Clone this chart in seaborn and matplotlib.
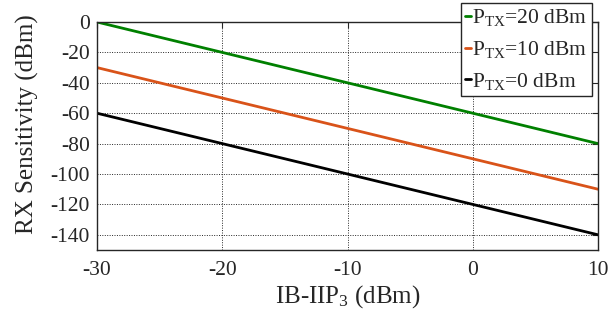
import matplotlib
matplotlib.use("Agg")
import matplotlib.pyplot as plt
import seaborn as sns
import pandas as pd

iip3 = [-30, -20, -10, 0, 10]
sens_20 = [0, -20, -40, -60, -80]
sens_10 = [-30, -50, -70, -90, -110]
sens_0 = [-60, -80, -100, -120, -140]
labels = ["P$_{\\mathrm{TX}}$=20 dBm", "P$_{\\mathrm{TX}}$=10 dBm", "P$_{\\mathrm{TX}}$=0 dBm"]
colors = ["#008000", "#D95319", "#000000"]

sns.set_style("white")
plt.rcParams['font.family'] = ['Liberation Serif', 'DejaVu Serif']
plt.rcParams['mathtext.fontset'] = 'custom'
plt.rcParams['mathtext.rm'] = 'Liberation Serif'
plt.rcParams['mathtext.it'] = 'Liberation Serif:italic'

df = pd.concat([
    pd.DataFrame({"x": iip3, "y": s, "series": l})
    for s, l in zip([sens_20, sens_10, sens_0], labels)
])

fig = plt.figure(figsize=(6.13, 3.2), dpi=100)
ax = fig.add_axes([97/613, 1 - 250/320, (598-97)/613, (250-22)/320])
sns.lineplot(data=df, x="x", y="y", hue="series", palette=colors, linewidth=2, ax=ax)

ax.set_xlim(-30, 10)
ax.set_ylim(-150, 0)
ax.set_xticks([-30, -20, -10, 0, 10])
ax.set_yticks([0, -20, -40, -60, -80, -100, -120, -140])
ax.set_xticklabels(["-30", "-20", "-10", "0", "10"])
ax.set_yticklabels(["0", "-20", "-40", "-60", "-80", "-100", "-120", "-140"])
ax.tick_params(direction="in", length=4, labelsize=15.5, colors="#262626", width=0.8, right=True, top=True)
ax.tick_params(axis='x', pad=8)
ax.tick_params(axis='y', pad=5)
ax.grid(True, linestyle=(0, (1, 1.5)), color="#262626", linewidth=0.7)
for sp in ax.spines.values():
    sp.set_color("#262626")
    sp.set_linewidth(1.0)
ax.set_xlabel("IB-IIP$_3$ (dBm)", fontsize=18, labelpad=2)
ax.set_ylabel("RX Sensitivity (dBm)", fontsize=18, labelpad=6)
ax.yaxis.set_label_coords(-0.115, 0.55)

leg = ax.legend(loc="upper left", bbox_to_anchor=(461/613, 1 - 3/320), bbox_transform=fig.transFigure,
                fontsize=15.5, handlelength=0.25, handletextpad=0.08, borderpad=0.2, labelspacing=0.5,
                frameon=True, fancybox=False, framealpha=1, edgecolor="#262626", borderaxespad=0)
leg.get_frame().set_linewidth(1.0)
for h in leg.legend_handles:
    h.set_linewidth(2)

fig.savefig("out.png", dpi=100)
